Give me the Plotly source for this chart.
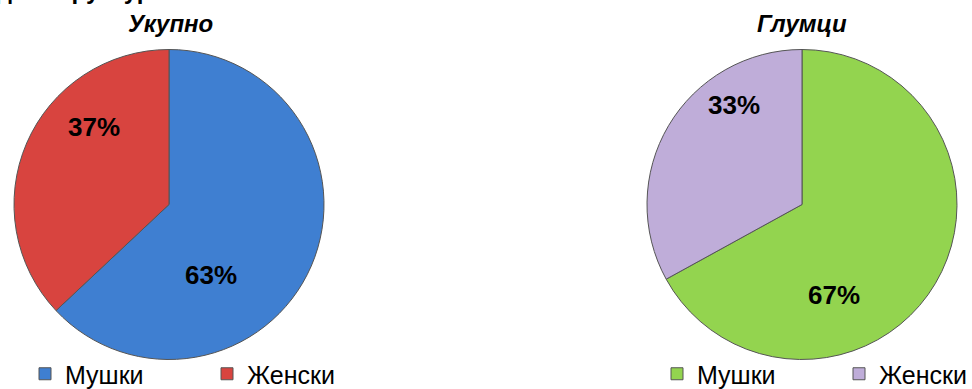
import plotly.graph_objects as go

categories = ["Мушки", "Женски"]
total_values = [63, 37]
actors_values = [67, 33]
chart_titles = ["Укупно", "Глумци"]
top_text = "Родна структура запослених"

W, H = 972, 389
FONT = "Arial, Liberation Sans, sans-serif"
left_colors = ["#3F7FD1", "#D8443F"]
right_colors = ["#93D44F", "#BFADD9"]


def px(x):
    return x / W


def py(y):
    return 1 - y / H


# Pie legends merge entries that share a label; a trailing space keeps the
# second chart's legend separate while showing the same text.
right_labels = [c + " " for c in categories]

fig = go.Figure()

pie_y = [py(362), py(47)]
fig.add_trace(go.Pie(
    labels=categories, values=total_values, sort=False, direction="clockwise", rotation=0,
    marker=dict(colors=left_colors, line=dict(color="#555555", width=1)),
    textinfo="none",
    domain=dict(x=[px(14), px(324)], y=pie_y),
    legend="legend", showlegend=True, hoverinfo="label+percent",
))
fig.add_trace(go.Pie(
    labels=right_labels, values=actors_values, sort=False, direction="clockwise", rotation=0,
    marker=dict(colors=right_colors, line=dict(color="#555555", width=1)),
    textinfo="none",
    domain=dict(x=[px(647), px(957)], y=pie_y),
    legend="legend2", showlegend=True, hoverinfo="label+percent",
))

# value labels (text taken from the data)
label_pos_left = [(211, 275), (94, 127)]
label_pos_right = [(834, 295), (734, 105)]
annotations = []
for vals, poss in ((total_values, label_pos_left), (actors_values, label_pos_right)):
    for v, (x, y) in zip(vals, poss):
        annotations.append(dict(
            text=f"<b>{v}%</b>", x=px(x), y=py(y), xref="paper", yref="paper",
            xanchor="center", yanchor="middle", showarrow=False,
            font=dict(family=FONT, size=26, color="black"),
        ))

for t, x in zip(chart_titles, (170, 802)):
    annotations.append(dict(
        text=f"<b><i>{t}</i></b>", x=px(x), y=py(24), xref="paper", yref="paper",
        xanchor="center", yanchor="middle", showarrow=False,
        font=dict(family=FONT, size=24, color="black"),
    ))

annotations.append(dict(
    text=f"<b>{top_text}</b>", x=px(-35), y=py(6), xref="paper", yref="paper",
    xanchor="left", yanchor="bottom", showarrow=False,
    font=dict(family=FONT, size=24, color="black"),
))

legend_common = dict(
    orientation="h", xanchor="left", yanchor="middle", y=py(374),
    xref="container", yref="container",
    font=dict(family=FONT, size=25, color="black"),
    entrywidth=137, entrywidthmode="pixels", itemwidth=30,
    bgcolor="rgba(0,0,0,0)", tracegroupgap=0,
)
fig.update_layout(
    width=W, height=H,
    margin=dict(l=0, r=0, t=0, b=0, autoexpand=False),
    paper_bgcolor="white", plot_bgcolor="white",
    legend=dict(x=px(25), **legend_common),
    legend2=dict(x=px(657), **legend_common),
    annotations=annotations,
)

fig.write_html("out.html", config={"displayModeBar": False},
               post_script="document.body.style.margin='0';")
